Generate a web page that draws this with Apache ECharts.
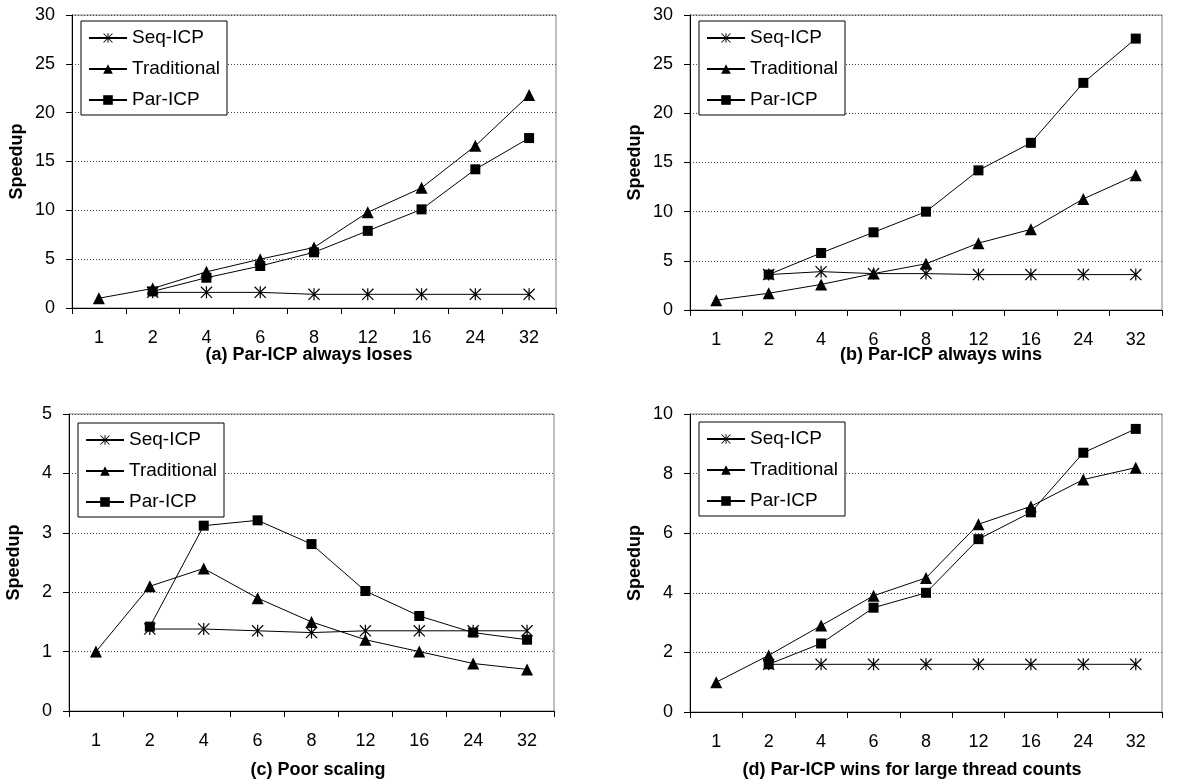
<!DOCTYPE html>
<html>
<head>
<meta charset="utf-8">
<style>
html,body{margin:0;padding:0;background:#fff;}
#chart{width:1192px;height:782px;}
</style>
<script src="https://cdn.jsdelivr.net/npm/echarts@6/dist/echarts.min.js"></script>
</head>
<body>
<div id="chart"></div>
<script>
const categories = ['1','2','4','6','8','12','16','24','32'];
const seriesNames = ['Seq-ICP','Traditional','Par-ICP'];
const panelTitles = ['(a) Par-ICP always loses','(b) Par-ICP always wins','(c) Poor scaling','(d) Par-ICP wins for large thread counts'];
const yMax = [30, 30, 5, 10];
const yStep = [5, 5, 1, 2];

const seqA  = ['-',1.6,1.6,1.6,1.4,1.4,1.4,1.4,1.4];
const tradA = [1.0,2.0,3.7,5.0,6.2,9.8,12.3,16.6,21.8];
const parA  = ['-',1.7,3.1,4.3,5.7,7.9,10.1,14.2,17.4];

const seqB  = ['-',3.6,3.9,3.7,3.7,3.6,3.6,3.6,3.6];
const tradB = [1.0,1.7,2.6,3.7,4.7,6.8,8.2,11.3,13.7];
const parB  = ['-',3.6,5.8,7.9,10.0,14.2,17.0,23.1,27.6];

const seqC  = ['-',1.38,1.38,1.35,1.32,1.35,1.35,1.35,1.35];
const tradC = [1.0,2.1,2.4,1.9,1.5,1.2,1.0,0.8,0.7];
const parC  = ['-',1.42,3.12,3.21,2.81,2.02,1.6,1.32,1.2];

const seqD  = ['-',1.6,1.6,1.6,1.6,1.6,1.6,1.6,1.6];
const tradD = [1.0,1.9,2.9,3.9,4.5,6.3,6.9,7.8,8.2];
const parD  = ['-',1.6,2.3,3.5,4.0,5.8,6.7,8.7,9.5];

const panelData = [[seqA,tradA,parA],[seqB,tradB,parB],[seqC,tradC,parC],[seqD,tradD,parD]];

const FONT = '"Liberation Sans", Arial, sans-serif';
const asterisk = 'path://M45,0H55V100H45Z M0,7L7,0L100,93L93,100Z M93,0L100,7L7,100L0,93Z';
const symbols = [asterisk, 'triangle', 'rect'];
const symSizes = [12, 12, 10];

const grids = [
  {left:72, top:15, width:484, height:293},
  {left:690, top:15, width:472, height:295},
  {left:69, top:414, width:485, height:297},
  {left:690, top:414, width:472, height:298}
];
const legendPos = [
  {left:81, top:21},
  {left:699, top:21},
  {left:78, top:423},
  {left:699, top:422}
];
const titlePos = [[309,355],[941,355],[318,770],[912,770]];

const option = {
  animation:false,
  backgroundColor:'#fff',
  textStyle:{fontFamily:FONT},
  grid: grids.map(g => Object.assign({show:true, borderColor:'#808080', borderWidth:1, backgroundColor:'transparent'}, g)),
  xAxis: grids.map((g,i) => ({
    type:'category', gridIndex:i, data:categories, boundaryGap:true,
    axisLine:{lineStyle:{color:'#000', width:1}},
    axisTick:{show:true, interval:0, length:6, lineStyle:{color:'#000'}},
    axisLabel:{interval:0, margin:21, fontSize:18, color:'#000', fontFamily:FONT},
    splitLine:{show:false}
  })),
  yAxis: grids.map((g,i) => ({
    type:'value', gridIndex:i, min:0, max:yMax[i], interval:yStep[i],
    name:'Speedup', nameLocation:'middle', nameRotate:90, nameGap:46,
    nameTextStyle:{fontSize:18, fontWeight:'bold', color:'#000', fontFamily:FONT},
    axisLine:{show:true, lineStyle:{color:'#000', width:1}},
    axisTick:{show:true, length:6, lineStyle:{color:'#000'}},
    axisLabel:{margin:17, fontSize:18, color:'#000', fontFamily:FONT},
    splitLine:{show:true, lineStyle:{color:'#444', type:[1,2], width:1}}
  })),
  legend: legendPos.map(p => ({
    left:p.left, top:p.top, orient:'vertical',
    data: seriesNames,
    backgroundColor:'#fff', borderColor:'#000', borderWidth:1,
    padding:[7,7,5,7], itemGap:11, itemWidth:38, itemHeight:12,
    textStyle:{fontSize:19, color:'#000', fontFamily:FONT, lineHeight:20},
    selectedMode:false
  })),
  graphic: panelTitles.map((t,i) => ({
    type:'text', x:titlePos[i][0], y:titlePos[i][1],
    style:{text:t, font:'bold 18px ' + FONT, fill:'#000', textAlign:'center', textVerticalAlign:'middle'}
  })),
  series: []
};

panelData.forEach((arrs, p) => {
  arrs.forEach((vals, k) => {
    option.series.push({
      type:'line', name:seriesNames[k], xAxisIndex:p, yAxisIndex:p,
      data: vals,
      symbol: symbols[k], symbolSize: symSizes[k], showAllSymbol:true,
      lineStyle:{color:'#000', width:1},
      itemStyle:{color:'#000', borderColor:'#000', borderWidth:0},
      emphasis:{disabled:true}
    });
  });
});

const chart = echarts.init(document.getElementById('chart'), null, {renderer:'canvas'});
chart.setOption(option);
</script>
</body>
</html>
